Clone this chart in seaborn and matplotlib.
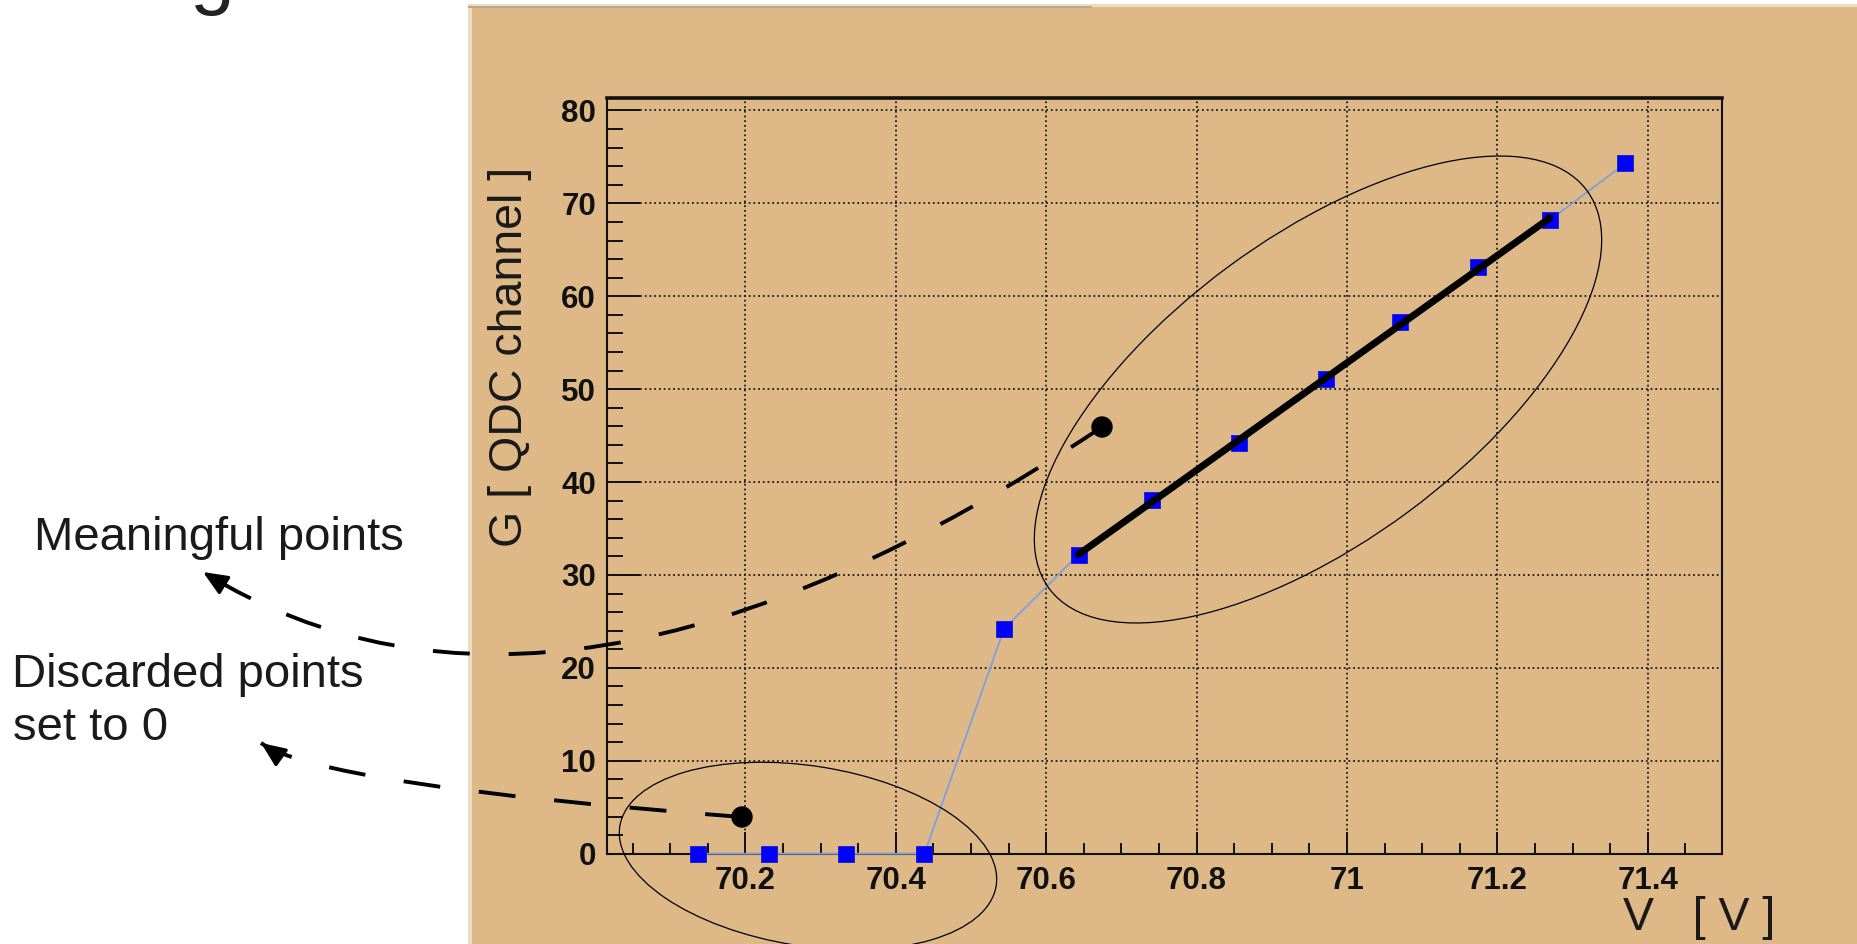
import numpy as np
import pandas as pd
import matplotlib
matplotlib.use("Agg")
import matplotlib.pyplot as plt
import seaborn as sns
from matplotlib.patches import Rectangle, Ellipse, Circle, PathPatch, FancyArrowPatch, ArrowStyle
from matplotlib.path import Path
from matplotlib.transforms import IdentityTransform
from matplotlib.ticker import MultipleLocator

# ---------------- data ----------------
voltage = [70.137, 70.232, 70.334, 70.438, 70.544, 70.643, 70.741,
           70.857, 70.972, 71.070, 71.174, 71.270, 71.370]
gain = [0.0, 0.0, 0.0, 0.0, 24.2, 32.2, 38.1, 44.2, 51.1, 57.2, 63.1, 68.2, 74.3]
fit_first, fit_last = 5, 11          # meaningful points used in the linear fit
x_ticks = [70.2, 70.4, 70.6, 70.8, 71.0, 71.2, 71.4]
x_tick_labels = ["70.2", "70.4", "70.6", "70.8", "71", "71.2", "71.4"]
y_ticks = [0, 10, 20, 30, 40, 50, 60, 70, 80]
y_tick_labels = ["0", "10", "20", "30", "40", "50", "60", "70", "80"]
x_label = "V   [ V ]"
y_label = "G [ QDC channel ]"
note_meaningful = "Meaningful points"
note_discarded_1 = "Discarded points"
note_discarded_2 = "set to 0"
slide_title = "Voltages"

# ---------------- figure ----------------
W, H = 1858, 944
sns.set_style("ticks")
plt.rcParams['font.family'] = ['Liberation Sans', 'DejaVu Sans']
plt.rcParams['lines.scale_dashes'] = False

fig = plt.figure(figsize=(W / 100, H / 100), dpi=100, facecolor='white')
T = IdentityTransform()


def P(x, y):
    """image pixel coords (y down) -> display coords (y up)"""
    return (x, H - y)


# slide panel
fig.add_artist(Rectangle((468, 0), W - 468, H - 4, transform=T,
                         facecolor='#DEB887', edgecolor='none', zorder=0))
fig.add_artist(Rectangle((468, H - 7), W - 468, 3, transform=T,
                         facecolor='#EEDCC2', edgecolor='none', zorder=0.1))
fig.add_artist(Rectangle((468, 0), 4, H - 4, transform=T,
                         facecolor='#EEDCC2', edgecolor='none', zorder=0.1))
fig.add_artist(Rectangle((468, H - 7.5), 1092 - 468, 1.2, transform=T,
                         facecolor='#BCA88C', edgecolor='none', zorder=0.2))

# slide title remnant (cut off at the top, as in the slide)
fig.text(12, H + 1, slide_title, transform=T, fontsize=58, color='#222222',
         ha='left', va='baseline')

# ---------------- axes ----------------
ax_l, ax_r, ax_t, ax_b = 607, 1721.5, 98, 853.7
ax = fig.add_axes([ax_l / W, (H - ax_b) / H, (ax_r - ax_l) / W, (ax_b - ax_t) / H])
ax.patch.set_alpha(0)

df = pd.DataFrame({'V': voltage, 'G': gain})

sns.lineplot(data=df, x='V', y='G', ax=ax, color='#7F9FDD', linewidth=1.3,
             sort=False, estimator=None, zorder=3, clip_on=False)
sns.scatterplot(data=df, x='V', y='G', ax=ax, marker='s', s=12 ** 2,
                color='#0000FF', edgecolor='#1A1AC8', linewidth=0.6,
                zorder=4, clip_on=False)
sns.regplot(data=df.iloc[fit_first:fit_last + 1], x='V', y='G', ax=ax,
            scatter=False, ci=None, truncate=True,
            line_kws=dict(color='black', linewidth=5.0, zorder=5,
                          solid_capstyle='round'))

ax.set_xlim(70.016, 71.498)
ax.set_ylim(0, 81.34)
ax.set_xlabel("")
ax.set_ylabel("")

ax.set_xticks(x_ticks)
ax.set_xticklabels(x_tick_labels, fontweight='bold', fontsize=22.5)
ax.set_yticks(y_ticks)
ax.set_yticklabels(y_tick_labels, fontweight='bold', fontsize=22.5)
ax.xaxis.set_minor_locator(MultipleLocator(0.05))
ax.yaxis.set_minor_locator(MultipleLocator(2))

ax.tick_params(axis='x', which='major', direction='in', length=16, width=1.4,
               pad=9, colors='#111111', bottom=True, top=False)
ax.tick_params(axis='x', which='minor', direction='in', length=8, width=1.4,
               bottom=True, top=False, color='#111111')
ax.tick_params(axis='y', which='major', direction='in', length=23.5, width=1.4,
               pad=8, colors='#111111', left=True, right=False)
ax.tick_params(axis='y', which='minor', direction='in', length=11.5, width=1.4,
               left=True, right=False, color='#111111')

ax.grid(True, which='major', color='#1a1a1a', linestyle=(0, (1.3, 2.1)),
        linewidth=1.3)
ax.set_axisbelow(True)

for side in ['left', 'bottom', 'right']:
    ax.spines[side].set_linewidth(1.5)
    ax.spines[side].set_color('#111111')
ax.spines['top'].set_linewidth(2.6)
ax.spines['top'].set_color('#111111')

# axis titles
fig.text(521.7, H - 356.5, y_label, transform=T, rotation=90,
         rotation_mode='anchor', ha='center', va='baseline',
         fontsize=33.5, color='#1a1a1a')
fig.text(1775, H - 930, x_label, transform=T, ha='right', va='baseline',
         fontsize=33.5, color='#1a1a1a')

# ---------------- annotations ----------------
fig.add_artist(Ellipse(P(1318, 389.5), 669, 304, angle=36.5, transform=T,
                       fill=False, edgecolor='black', linewidth=0.9, zorder=10))
fig.add_artist(Ellipse(P(808, 856), 381, 180, angle=-9, transform=T,
                       fill=False, edgecolor='black', linewidth=0.9, zorder=10))


def dashed_arrow(p0, c, p2):
    path = Path([P(*p0), P(*c), P(*p2)], [Path.MOVETO, Path.CURVE3, Path.CURVE3])
    fig.add_artist(PathPatch(path, transform=T, fill=False, edgecolor='black',
                             linewidth=2.8, linestyle=(0, (26.6, 28.0)),
                             capstyle='butt', zorder=11))
    d = np.array(p2, float) - np.array(c, float)
    d /= np.hypot(*d)
    base = np.array(p2, float) - 24 * d
    fig.add_artist(FancyArrowPatch(P(*base), P(*p2), transform=T,
                                   arrowstyle=ArrowStyle('-|>', head_length=0.75,
                                                         head_width=0.32),
                                   mutation_scale=20, color='black',
                                   linewidth=2.2, shrinkA=0, shrinkB=0,
                                   zorder=12))
    fig.add_artist(Circle(P(*p0), 10, transform=T, color='black', zorder=12))


dashed_arrow((1102, 427), (556, 791), (203, 572))
dashed_arrow((742, 817), (320, 785), (261, 743))

fig.text(34.5, H - 550, note_meaningful, transform=T, fontsize=34,
         color='#1a1a1a', ha='left', va='baseline')
fig.text(12, H - 686.7, note_discarded_1, transform=T, fontsize=34,
         color='#1a1a1a', ha='left', va='baseline')
fig.text(13, H - 740, note_discarded_2, transform=T, fontsize=34,
         color='#1a1a1a', ha='left', va='baseline')

fig.savefig("out.png", dpi=100, facecolor='white')
